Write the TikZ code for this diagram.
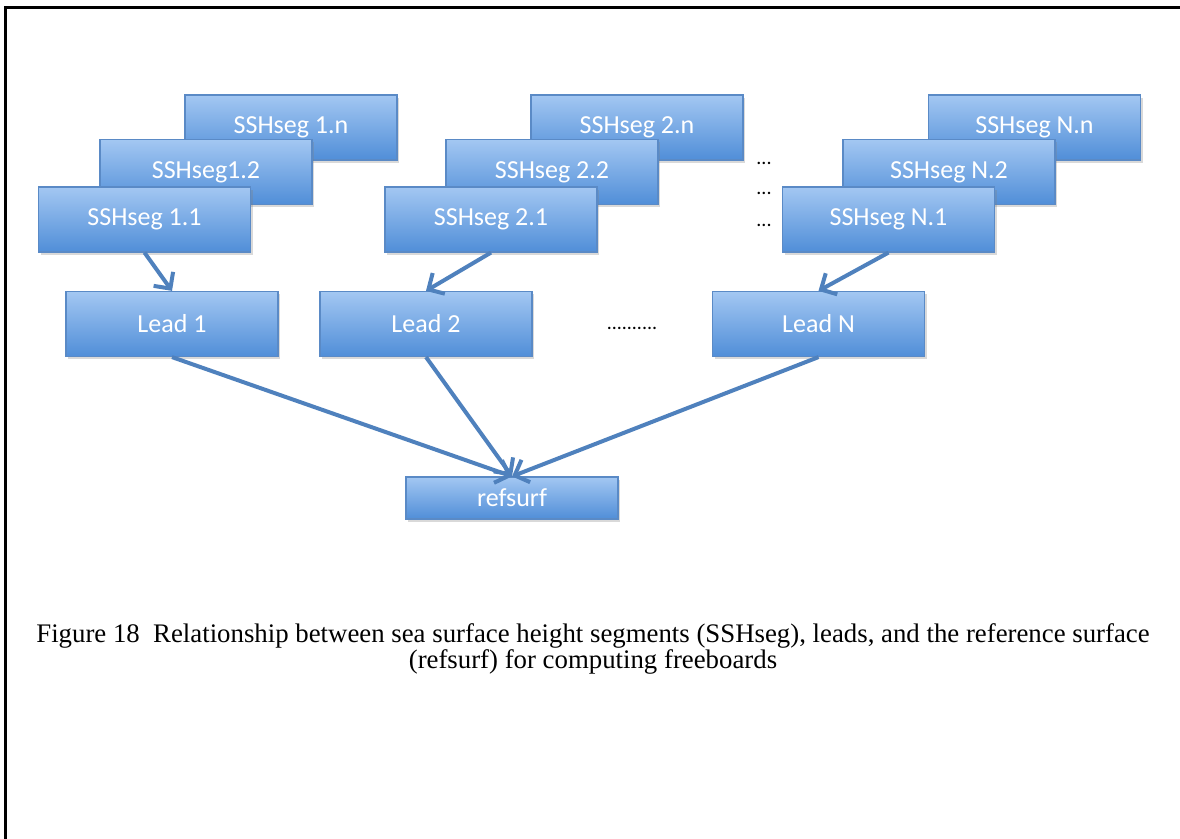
\documentclass[tikz,border=0pt]{standalone}
\usepackage{fontspec}
\setmainfont{Liberation Serif}
\newfontfamily\boxfont{Carlito}
\usetikzlibrary{shadows,arrows.meta}
\definecolor{segtop}{RGB}{163,199,242}
\definecolor{segbot}{RGB}{80,142,216}
\definecolor{segline}{RGB}{90,138,198}
\definecolor{arrowblue}{RGB}{79,129,189}
\begin{document}
\begin{tikzpicture}[x=0.5pt,y=-0.5pt,
  seg/.style={rectangle, draw=segline, line width=0.6pt, top color=segtop, bottom color=segbot,
    minimum width=106pt, minimum height=32.5pt, inner sep=0pt, text=white,
    font=\boxfont\fontsize{13}{15}\selectfont,
    drop shadow={shadow xshift=1pt, shadow yshift=-1.5pt, opacity=0.3}},
  flow/.style={draw=arrowblue, line width=2pt, -{Straight Barb[length=6pt,width=12pt]}},
  more/.style={font=\boxfont\fontsize{10}{12}\selectfont, inner sep=0pt}]
\useasboundingbox (0,0) rectangle (1180,839);
\draw[line width=1.5pt] (5.3,839) -- (5.3,7.3) -- (1180,7.3);

% segments of lead 1
\node[seg] (s1n) at (291,127.5) {SSHseg 1.n};
\node[seg] (s12) at (206,172) {SSHseg1.2};
\node[seg] (s11) at (144.5,219.5) {SSHseg 1.1};
% segments of lead 2
\node[seg] (s2n) at (637,127.5) {SSHseg 2.n};
\node[seg] (s22) at (552,172) {SSHseg 2.2};
\node[seg] (s21) at (491,219.5) {SSHseg 2.1};
% segments of lead N
\node[seg] (sNn) at (1034.5,127.5) {SSHseg N.n};
\node[seg] (sN2) at (949,172) {SSHseg N.2};
\node[seg] (sN1) at (888.5,219.5) {SSHseg N.1};

\node[more] (d1) at (764,163) {...};
\node[more] (d2) at (764,193) {...};
\node[more] (d3) at (764,225) {...};

\node[seg] (lead1) at (172,324) {Lead 1};
\node[seg] (lead2) at (426,324) {Lead 2};
\node[seg] (leadN) at (818.5,324) {Lead N};
\node[more] (d4) at (632,328) {..........};

\node[seg, minimum height=21pt] (ref) at (512,498) {refsurf};

\path[flow] (s11.south) -- (lead1.north);
\path[flow] (s21.south) -- (lead2.north);
\path[flow] (sN1.south) -- (leadN.north);
\path[flow] (lead1.south) -- (ref.north);
\path[flow] (lead2.south) -- (ref.north);
\path[flow] (leadN.south) -- (ref.north);

\node[align=center, font=\fontsize{13.4}{13.2}\selectfont] (cap) at (593,649)
  {Figure 18\ \ Relationship between sea surface height segments (SSHseg), leads, and the reference surface\\
   (refsurf) for computing freeboards};
\end{tikzpicture}
\end{document}
